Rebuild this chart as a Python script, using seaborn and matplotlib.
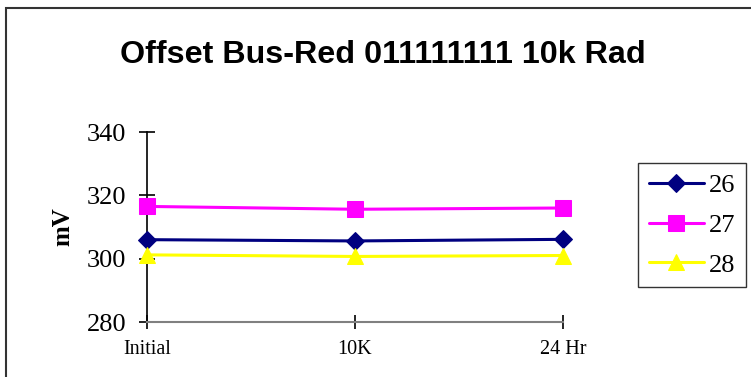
"""
Offset Bus-Red radiation chart
"""

import matplotlib
matplotlib.use("Agg")
import matplotlib.pyplot as plt
import seaborn as sns
import pandas as pd
from matplotlib.patches import Rectangle

stages = ["Initial", "10K", "24 Hr"]
s26 = [306.0, 305.6, 306.1]
s27 = [316.5, 315.6, 316.0]
s28 = [301.2, 300.7, 301.0]

series = {"26": s26, "27": s27, "28": s28}
colors = {"26": "#000080", "27": "#FF00FF", "28": "#FFFF00"}
markers = {"26": "D", "27": "s", "28": "^"}
msizes = {"26": 9, "27": 11, "28": 12}

sns.set_theme(style="white")
plt.rcParams["font.family"] = ["Liberation Serif", "DejaVu Serif"]
plt.rcParams["text.color"] = "black"
plt.rcParams["axes.labelcolor"] = "black"
plt.rcParams["xtick.color"] = "black"
plt.rcParams["ytick.color"] = "black"

fig = plt.figure(figsize=(7.51, 3.77), dpi=100)
ax = fig.add_axes([147 / 751, 1 - 322 / 377, (563 - 147) / 751, (322 - 132) / 377])

for name, vals in series.items():
    df = pd.DataFrame({"stage": stages, "mV": vals})
    sns.lineplot(data=df, x="stage", y="mV", sort=False, ax=ax,
                 color=colors[name], marker=markers[name], markersize=msizes[name],
                 markeredgecolor=colors[name], linewidth=2.2, label=name,
                 clip_on=False, zorder=3)

ax.set_xlim(0, 2)
ax.set_ylim(280, 340)
ax.set_yticks([280, 300, 320, 340])
ax.set_xlabel("")
ax.set_ylabel("mV", fontsize=18, fontweight="bold", labelpad=9)

for side in ["top", "right"]:
    ax.spines[side].set_visible(False)
ax.spines["left"].set_color("black")
ax.spines["left"].set_linewidth(1.2)
ax.spines["bottom"].set_color("#808080")
ax.spines["bottom"].set_linewidth(1.5)

ax.tick_params(axis="y", direction="inout", length=12, width=1.2, color="black",
               labelsize=19, pad=9, left=True)
ax.tick_params(axis="x", direction="inout", length=9.5, width=1.2, color="black",
               labelsize=14.5, pad=8, bottom=True)

leg = ax.legend(loc="upper left", bbox_to_anchor=(638 / 751, 1 - 163 / 377),
                bbox_transform=fig.transFigure, prop={"size": 19},
                frameon=True, fancybox=False, edgecolor="black", handlelength=2.1,
                handletextpad=0.2, labelspacing=0.62, borderpad=0.4,
                borderaxespad=0)
leg.get_frame().set_linewidth(1.0)

fig.text(383 / 751, 1 - 55 / 377, "Offset Bus-Red 011111111 10k Rad",
         ha="center", va="center", fontsize=23.2, fontweight="bold",
         family=["Liberation Sans", "DejaVu Sans"])

fig.patches.append(Rectangle((6 / 751, -0.5), 2, 1.5 - 8 / 377, transform=fig.transFigure,
                             fill=False, edgecolor="#333333", linewidth=1.5))

fig.savefig("out.png", dpi=100)
